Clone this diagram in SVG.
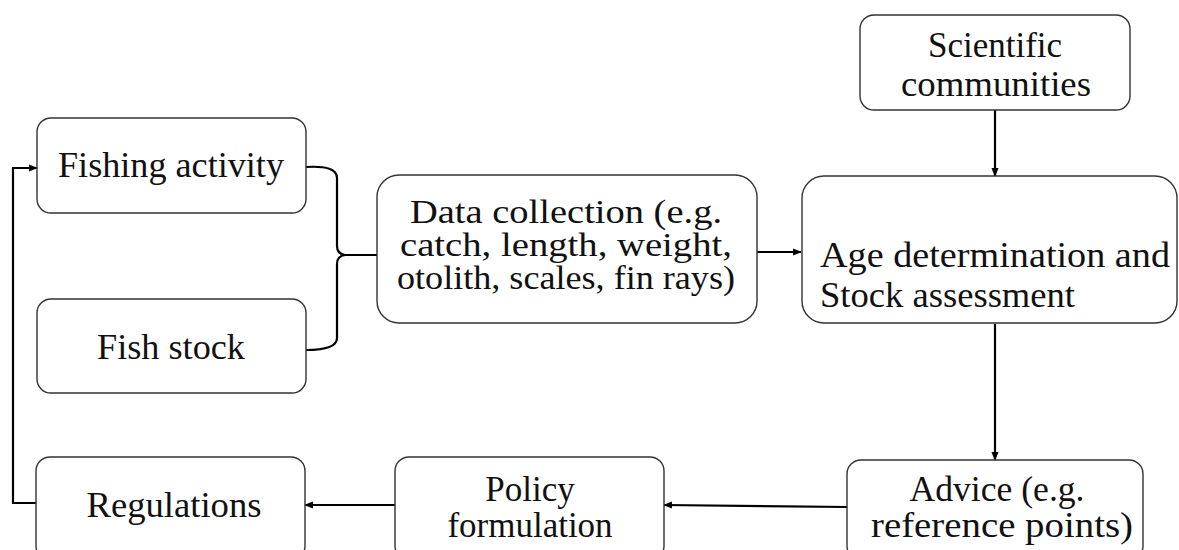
<svg xmlns="http://www.w3.org/2000/svg" width="1179" height="550" viewBox="0 0 1179 550">
<defs>
<style>
.box{fill:#fff;stroke:#333;stroke-width:1.4}
.t{font-family:"Liberation Serif","Times New Roman",serif;font-size:35px;fill:#111}
.s{font-size:33px}
.c{text-anchor:middle}
.ln{fill:none;stroke:#000;stroke-width:2.2}
</style>
<marker id="ah" viewBox="0 0 10 10" refX="9" refY="5" markerWidth="4" markerHeight="4" orient="auto" markerUnits="strokeWidth">
<path d="M0,1 L10,5 L0,9 z" fill="#000"/>
</marker>
</defs>
<rect width="1179" height="550" fill="#fff"/>
<g id="connectors">
<path class="ln" d="M306,167 Q337,165 337,178 L337,246 Q337,254 345,255 M306,350 Q337,350 337,338 L337,264 Q337,256 345,255 M343,255 L378,255"/>
<path class="ln" d="M757,252 L801,252" marker-end="url(#ah)"/>
<path class="ln" d="M995,110 L995,176" marker-end="url(#ah)"/>
<path class="ln" d="M995,324 L995,460" marker-end="url(#ah)"/>
<path class="ln" d="M847,507 L664,505" marker-end="url(#ah)"/>
<path class="ln" d="M395,505 L305,505" marker-end="url(#ah)"/>
<path class="ln" d="M36,503 L13,503 L13,168 L37,168" marker-end="url(#ah)"/>
</g>
<g id="fishing-activity">
<rect class="box" x="37" y="118" width="269" height="95" rx="14"/>
<text class="t c" x="171" y="177" textLength="226" lengthAdjust="spacingAndGlyphs">Fishing activity</text>
</g>
<g id="fish-stock">
<rect class="box" x="37" y="299" width="269" height="94" rx="14"/>
<text class="t c" x="171" y="359" textLength="148" lengthAdjust="spacingAndGlyphs">Fish stock</text>
</g>
<g id="data-collection">
<rect class="box" x="377" y="175" width="380" height="148" rx="22"/>
<text class="t s c" x="566" y="223" textLength="312" lengthAdjust="spacingAndGlyphs">Data collection (e.g.</text>
<text class="t s c" x="566" y="256" textLength="332" lengthAdjust="spacingAndGlyphs">catch, length, weight,</text>
<text class="t s c" x="566" y="289" textLength="338" lengthAdjust="spacingAndGlyphs">otolith, scales, fin rays)</text>
</g>
<g id="scientific-communities">
<rect class="box" x="860" y="15" width="270" height="95" rx="14"/>
<text class="t c" x="995" y="57">Scientific</text>
<text class="t c" x="996" y="96" textLength="190" lengthAdjust="spacingAndGlyphs">communities</text>
</g>
<g id="age-determination">
<rect class="box" x="802" y="176" width="375" height="147" rx="22"/>
<text class="t" x="820" y="267" textLength="350" lengthAdjust="spacingAndGlyphs">Age determination and</text>
<text class="t" x="820" y="307" textLength="255" lengthAdjust="spacingAndGlyphs">Stock assessment</text>
</g>
<g id="advice">
<rect class="box" x="847" y="460" width="296" height="100" rx="14"/>
<text class="t c" x="997" y="501" textLength="175" lengthAdjust="spacingAndGlyphs">Advice (e.g.</text>
<text class="t c" x="1002" y="537" textLength="262" lengthAdjust="spacingAndGlyphs">reference points)</text>
</g>
<g id="policy">
<rect class="box" x="395" y="457" width="269" height="103" rx="14"/>
<text class="t c" x="530" y="501">Policy</text>
<text class="t c" x="530" y="537">formulation</text>
</g>
<g id="regulations">
<rect class="box" x="36" y="457" width="269" height="103" rx="14"/>
<text class="t c" x="174" y="517" textLength="175" lengthAdjust="spacingAndGlyphs">Regulations</text>
</g>
</svg>
